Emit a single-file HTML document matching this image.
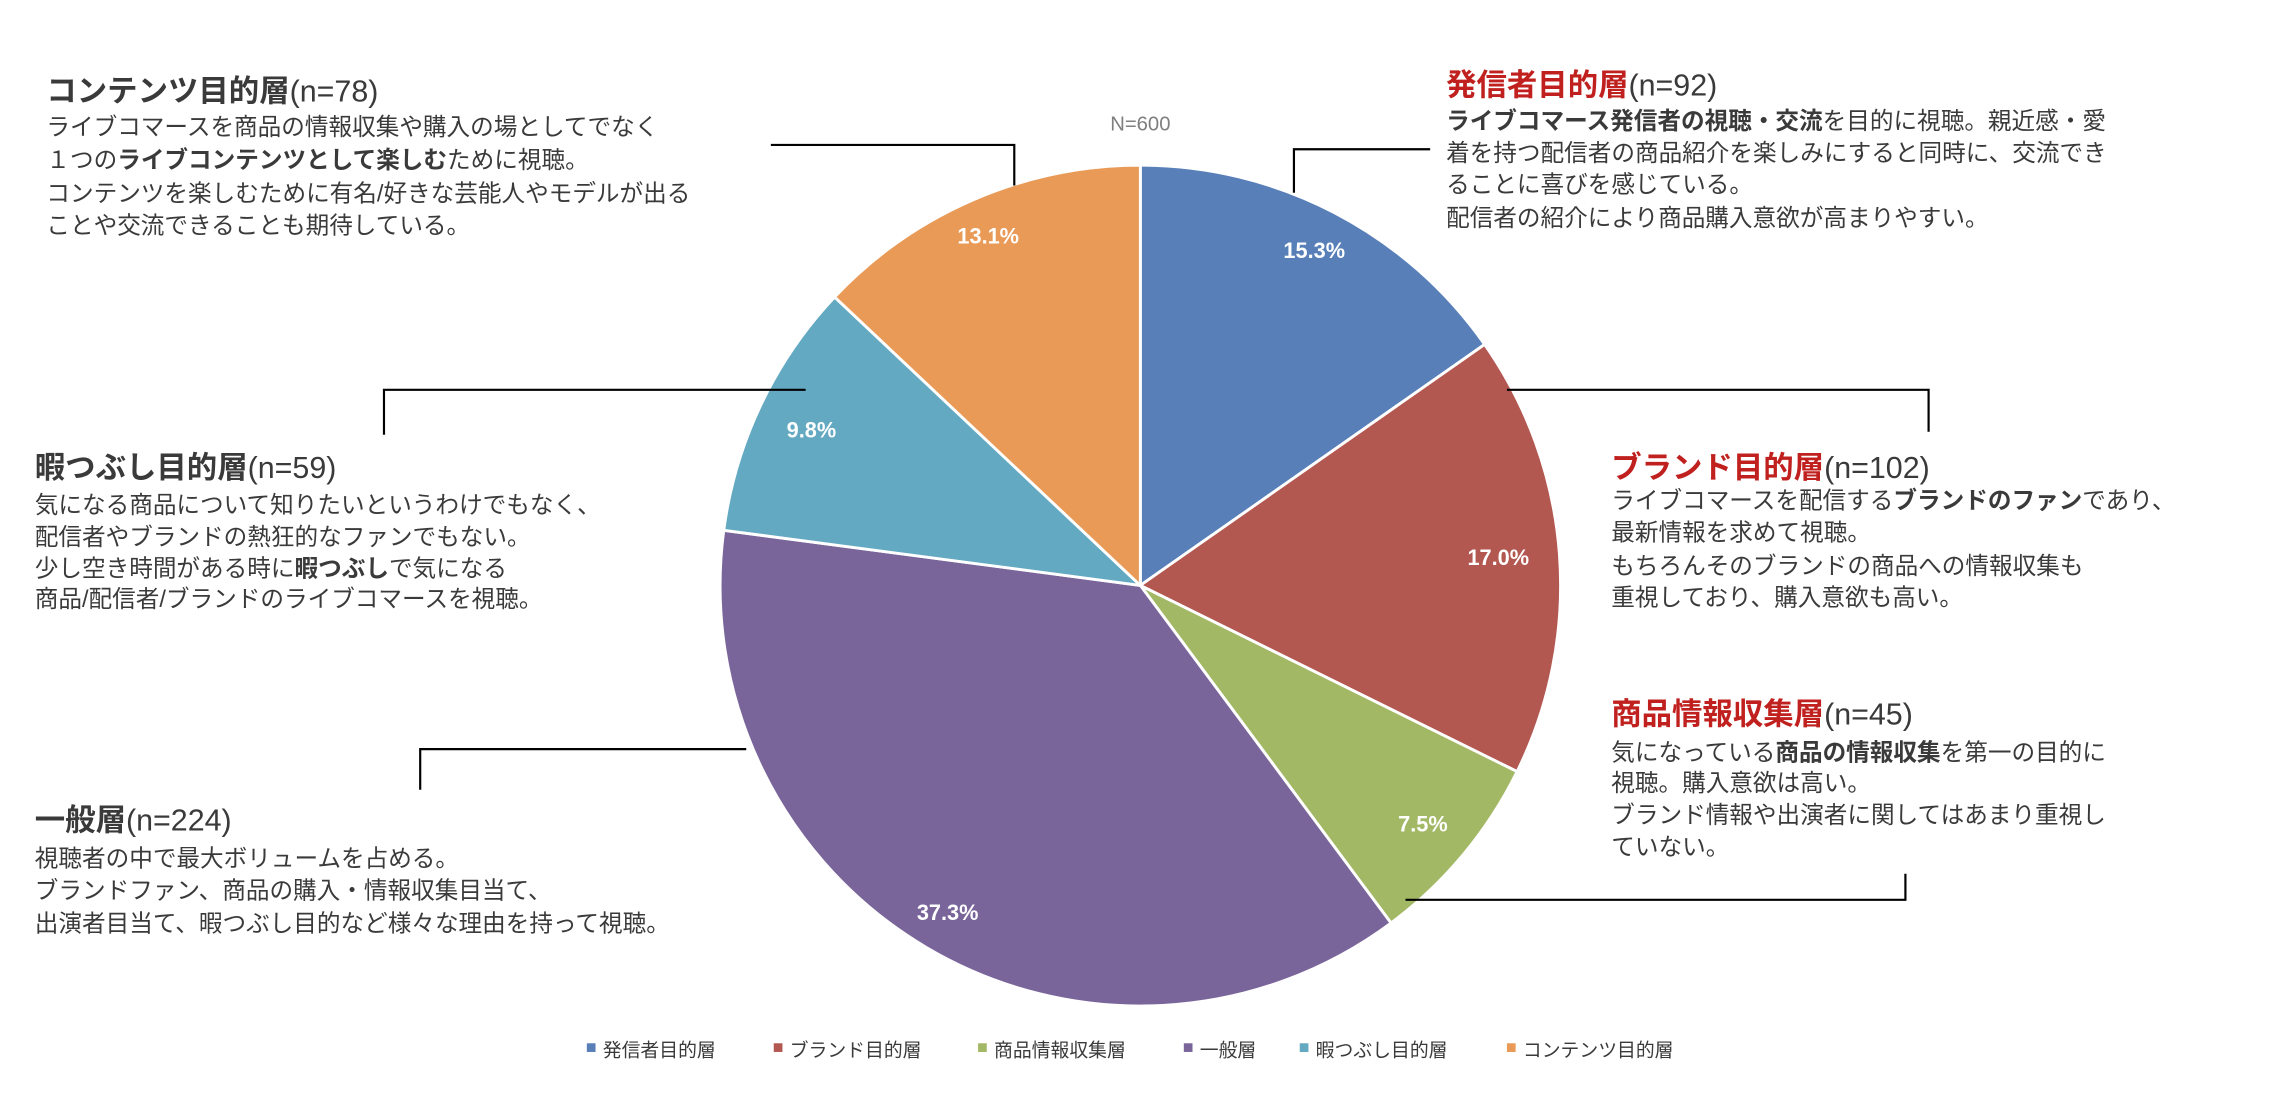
<!DOCTYPE html>
<html><head><meta charset="utf-8"><style>
html,body{margin:0;padding:0;background:#fff;}
svg{display:block;}
text{font-family:"Liberation Sans","Noto Sans CJK JP",sans-serif;fill:#3a3a3a;}
.t{font-size:21px;font-weight:bold;}
.n{font-size:21px;font-weight:normal;}
.b{font-size:16.3px;}
.p{font-size:15px;font-weight:bold;fill:#fff;}
.l{font-size:13px;}
</style></head><body>
<svg width="2272" height="1094" viewBox="0 0 1568 755" xmlns="http://www.w3.org/2000/svg">
<g stroke="#fff" stroke-width="2">
<path d="M787,404 L787,114 A290,290 0 0 1 1024.6,237.7 Z" fill="#587fb8"/>
<path d="M787,404 L1024.6,237.7 A290,290 0 0 1 1047,532.5 Z" fill="#b35751"/>
<path d="M787,404 L1047,532.5 A290,290 0 0 1 960,637 Z" fill="#a2b865"/>
<path d="M787,404 L960,637 A290,290 0 0 1 499.5,366 Z" fill="#7a659b"/>
<path d="M787,404 L499.5,366 A290,290 0 0 1 576,205 Z" fill="#63a9c2"/>
<path d="M787,404 L576,205 A290,290 0 0 1 787,114 Z" fill="#e99a57"/>
</g>
<text class="p" x="907" y="178" text-anchor="middle">15.3%</text>
<text class="p" x="1034" y="390" text-anchor="middle">17.0%</text>
<text class="p" x="982" y="574" text-anchor="middle">7.5%</text>
<text class="p" x="654" y="635" text-anchor="middle">37.3%</text>
<text class="p" x="560" y="302" text-anchor="middle">9.8%</text>
<text class="p" x="682" y="168" text-anchor="middle">13.1%</text>
<g stroke="#000" stroke-width="1.5" fill="none">
<polyline points="700,128 700,100 532,100"/>
<polyline points="556,269 265,269 265,300"/>
<polyline points="515,517 290,517 290,545"/>
<polyline points="893,133 893,103 987,103"/>
<polyline points="1040,269 1331,269 1331,298"/>
<polyline points="970,621 1315,621 1315,603"/>
</g>
<text x="787" y="90" text-anchor="middle" style="font-size:14px;fill:#7f7f7f">N=600</text>

<text x="32" y="70"><tspan class="t">コンテンツ目的層</tspan><tspan class="n">(n=78)</tspan></text>
<text class="b" x="32" y="93">ライブコマースを商品の情報収集や購入の場としてでなく</text>
<text class="b" x="32" y="116">１つの<tspan font-weight="bold">ライブコンテンツとして楽しむ</tspan>ために視聴。</text>
<text class="b" x="32" y="139">コンテンツを楽しむために有名/好きな芸能人やモデルが出る</text>
<text class="b" x="32" y="161">ことや交流できることも期待している。</text>

<text x="24" y="330"><tspan class="t">暇つぶし目的層</tspan><tspan class="n">(n=59)</tspan></text>
<text class="b" x="24" y="354">気になる商品について知りたいというわけでもなく、</text>
<text class="b" x="24" y="376">配信者やブランドの熱狂的なファンでもない。</text>
<text class="b" x="24" y="398">少し空き時間がある時に<tspan font-weight="bold">暇つぶし</tspan>で気になる</text>
<text class="b" x="24" y="419">商品/配信者/ブランドのライブコマースを視聴。</text>

<text x="24" y="573"><tspan class="t">一般層</tspan><tspan class="n">(n=224)</tspan></text>
<text class="b" x="24" y="598">視聴者の中で最大ボリュームを占める。</text>
<text class="b" x="24" y="620">ブランドファン、商品の購入・情報収集目当て、</text>
<text class="b" x="24" y="643">出演者目当て、暇つぶし目的など様々な理由を持って視聴。</text>

<text x="998" y="66"><tspan class="t" style="fill:#c0211f">発信者目的層</tspan><tspan class="n">(n=92)</tspan></text>
<text class="b" x="998" y="89"><tspan font-weight="bold">ライブコマース発信者の視聴・交流</tspan>を目的に視聴。親近感・愛</text>
<text class="b" x="998" y="111">着を持つ配信者の商品紹介を楽しみにすると同時に、交流でき</text>
<text class="b" x="998" y="133">ることに喜びを感じている。</text>
<text class="b" x="998" y="156">配信者の紹介により商品購入意欲が高まりやすい。</text>

<text x="1112" y="330"><tspan class="t" style="fill:#c0211f">ブランド目的層</tspan><tspan class="n">(n=102)</tspan></text>
<text class="b" x="1112" y="351">ライブコマースを配信する<tspan font-weight="bold">ブランドのファン</tspan>であり、</text>
<text class="b" x="1112" y="373">最新情報を求めて視聴。</text>
<text class="b" x="1112" y="396">もちろんそのブランドの商品への情報収集も</text>
<text class="b" x="1112" y="418">重視しており、購入意欲も高い。</text>

<text x="1112" y="500"><tspan class="t" style="fill:#c0211f">商品情報収集層</tspan><tspan class="n">(n=45)</tspan></text>
<text class="b" x="1112" y="525">気になっている<tspan font-weight="bold">商品の情報収集</tspan>を第一の目的に</text>
<text class="b" x="1112" y="546">視聴。購入意欲は高い。</text>
<text class="b" x="1112" y="568">ブランド情報や出演者に関してはあまり重視し</text>
<text class="b" x="1112" y="590">ていない。</text>

<g>
<rect x="405" y="720" width="6" height="6" fill="#587fb8"/><text class="l" x="416" y="729">発信者目的層</text>
<rect x="534" y="720" width="6" height="6" fill="#b35751"/><text class="l" x="545" y="729">ブランド目的層</text>
<rect x="675" y="720" width="6" height="6" fill="#a2b865"/><text class="l" x="686" y="729">商品情報収集層</text>
<rect x="817" y="720" width="6" height="6" fill="#7a659b"/><text class="l" x="828" y="729">一般層</text>
<rect x="897" y="720" width="6" height="6" fill="#63a9c2"/><text class="l" x="908" y="729">暇つぶし目的層</text>
<rect x="1040" y="720" width="6" height="6" fill="#e99a57"/><text class="l" x="1051" y="729">コンテンツ目的層</text>
</g>
</svg>
</body></html>
